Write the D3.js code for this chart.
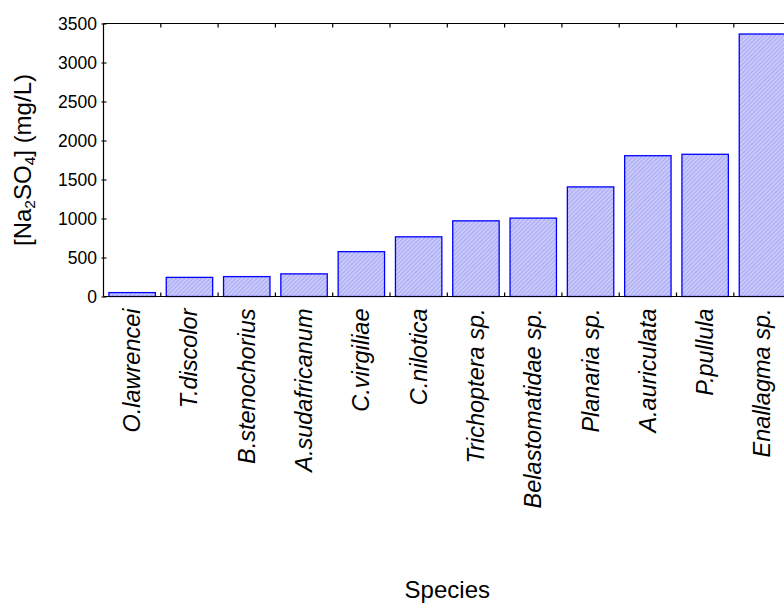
<!DOCTYPE html>
<html>
<head>
<meta charset="utf-8">
<script src="https://cdn.jsdelivr.net/npm/d3@7"></script>
<style>
  body { margin: 0; background: #fff; }
  svg { display: block; font-family: Arial, "Liberation Sans", sans-serif; }
</style>
</head>
<body>
<svg id="chart" width="784" height="603"></svg>
<script>
// Species and the Na2SO4 concentration for each
const species = ["O.lawrencei", "T.discolor", "B.stenochorius", "A.sudafricanum", "C.virgiliae",
  "C.nilotica", "Trichoptera sp.", "Belastomatidae sp.", "Planaria sp.", "A.auriculata",
  "P.pullula", "Enallagma sp."];
const concentration = [50, 245, 255, 290, 575, 765, 970, 1005, 1405, 1805, 1823, 3365];
const yTicks = [0, 500, 1000, 1500, 2000, 2500, 3000, 3500];

const svg = d3.select("#chart");
const W = 784, H = 603;
const plotLeft = 103.5, plotTop = 23.5, plotBottom = 296.5;
const step = 57.3;
const plotRight = plotLeft + step * species.length;

const x = d3.scaleBand().domain(species).range([plotLeft, plotRight]).paddingInner(0.19).paddingOuter(0.095);
const y = d3.scaleLinear().domain([0, 3500]).range([plotBottom, plotTop]);

// hatched fill
const defs = svg.append("defs");
const pat = defs.append("pattern").attr("id", "hatch").attr("patternUnits", "userSpaceOnUse")
  .attr("width", 3).attr("height", 3).attr("patternTransform", "rotate(45)");
pat.append("rect").attr("width", 3).attr("height", 3).attr("fill", "#c9c9fb");
pat.append("rect").attr("width", 1).attr("height", 3).attr("fill", "#a9a9f2");

defs.append("clipPath").attr("id", "clip").append("rect")
  .attr("x", 0).attr("y", 0).attr("width", W).attr("height", H);

const g = svg.append("g").attr("clip-path", "url(#clip)");

// bars
g.selectAll("rect.bar").data(species).join("rect")
  .attr("class", "bar")
  .attr("x", d => x(d))
  .attr("width", x.bandwidth())
  .attr("y", (d, i) => y(concentration[i]))
  .attr("height", (d, i) => plotBottom - y(concentration[i]))
  .attr("fill", "url(#hatch)")
  .attr("stroke", "#0000ff")
  .attr("stroke-width", 1.3);

// frame lines (top and bottom run past the right edge)
g.append("line").attr("x1", plotLeft).attr("x2", plotRight).attr("y1", plotTop).attr("y2", plotTop)
  .attr("stroke", "#000").attr("stroke-width", 1.2);
g.append("line").attr("x1", plotLeft).attr("x2", plotRight).attr("y1", plotBottom).attr("y2", plotBottom)
  .attr("stroke", "#000").attr("stroke-width", 1.2);
g.append("line").attr("x1", plotLeft).attr("x2", plotLeft).attr("y1", plotTop).attr("y2", plotBottom)
  .attr("stroke", "#000").attr("stroke-width", 1.2);

// category boundary ticks on top and bottom
const bounds = d3.range(1, species.length).map(i => plotLeft + i * step);
g.selectAll("line.tb").data(bounds).join("line").attr("class", "tb")
  .attr("x1", d => d).attr("x2", d => d).attr("y1", plotBottom).attr("y2", plotBottom - 4)
  .attr("stroke", "#000").attr("stroke-width", 1.2);
g.selectAll("line.tt").data(bounds).join("line").attr("class", "tt")
  .attr("x1", d => d).attr("x2", d => d).attr("y1", plotTop).attr("y2", plotTop + 4)
  .attr("stroke", "#000").attr("stroke-width", 1.2);

// y axis
const yAxis = d3.axisLeft(y).tickValues(yTicks).tickSize(3).tickPadding(3.5).tickFormat(d3.format("d"));
const ya = svg.append("g").attr("transform", `translate(${plotLeft},0)`).call(yAxis);
ya.select(".domain").remove();
ya.selectAll(".tick line").attr("x2", 3).attr("x1", -2).attr("stroke-width", 1.1);
ya.selectAll(".tick text").attr("font-size", 17.5).attr("font-family", "Arial, 'Liberation Sans', sans-serif")
  .attr("fill", "#000");

// category labels, rotated
svg.append("g").selectAll("text").data(species).join("text")
  .attr("transform", d => `translate(${x(d) + x.bandwidth() / 2},${plotBottom + 12}) rotate(-90)`)
  .attr("text-anchor", "end")
  .attr("dominant-baseline", "central")
  .attr("font-size", 23.5)
  .attr("font-style", "italic")
  .text(d => d);

// axis titles
const yt = svg.append("text")
  .attr("transform", `translate(31,160) rotate(-90)`)
  .attr("text-anchor", "middle")
  .attr("font-size", 24);
yt.append("tspan").text("[Na");
yt.append("tspan").text("2").attr("font-size", 15.5).attr("baseline-shift", "-22%");
yt.append("tspan").text("SO");
yt.append("tspan").text("4").attr("font-size", 15.5).attr("baseline-shift", "-22%");
yt.append("tspan").text("] (mg/L)");

svg.append("text").attr("x", (plotLeft + plotRight) / 2).attr("y", 597.5)
  .attr("text-anchor", "middle").attr("font-size", 24).text("Species");
</script>
</body>
</html>
